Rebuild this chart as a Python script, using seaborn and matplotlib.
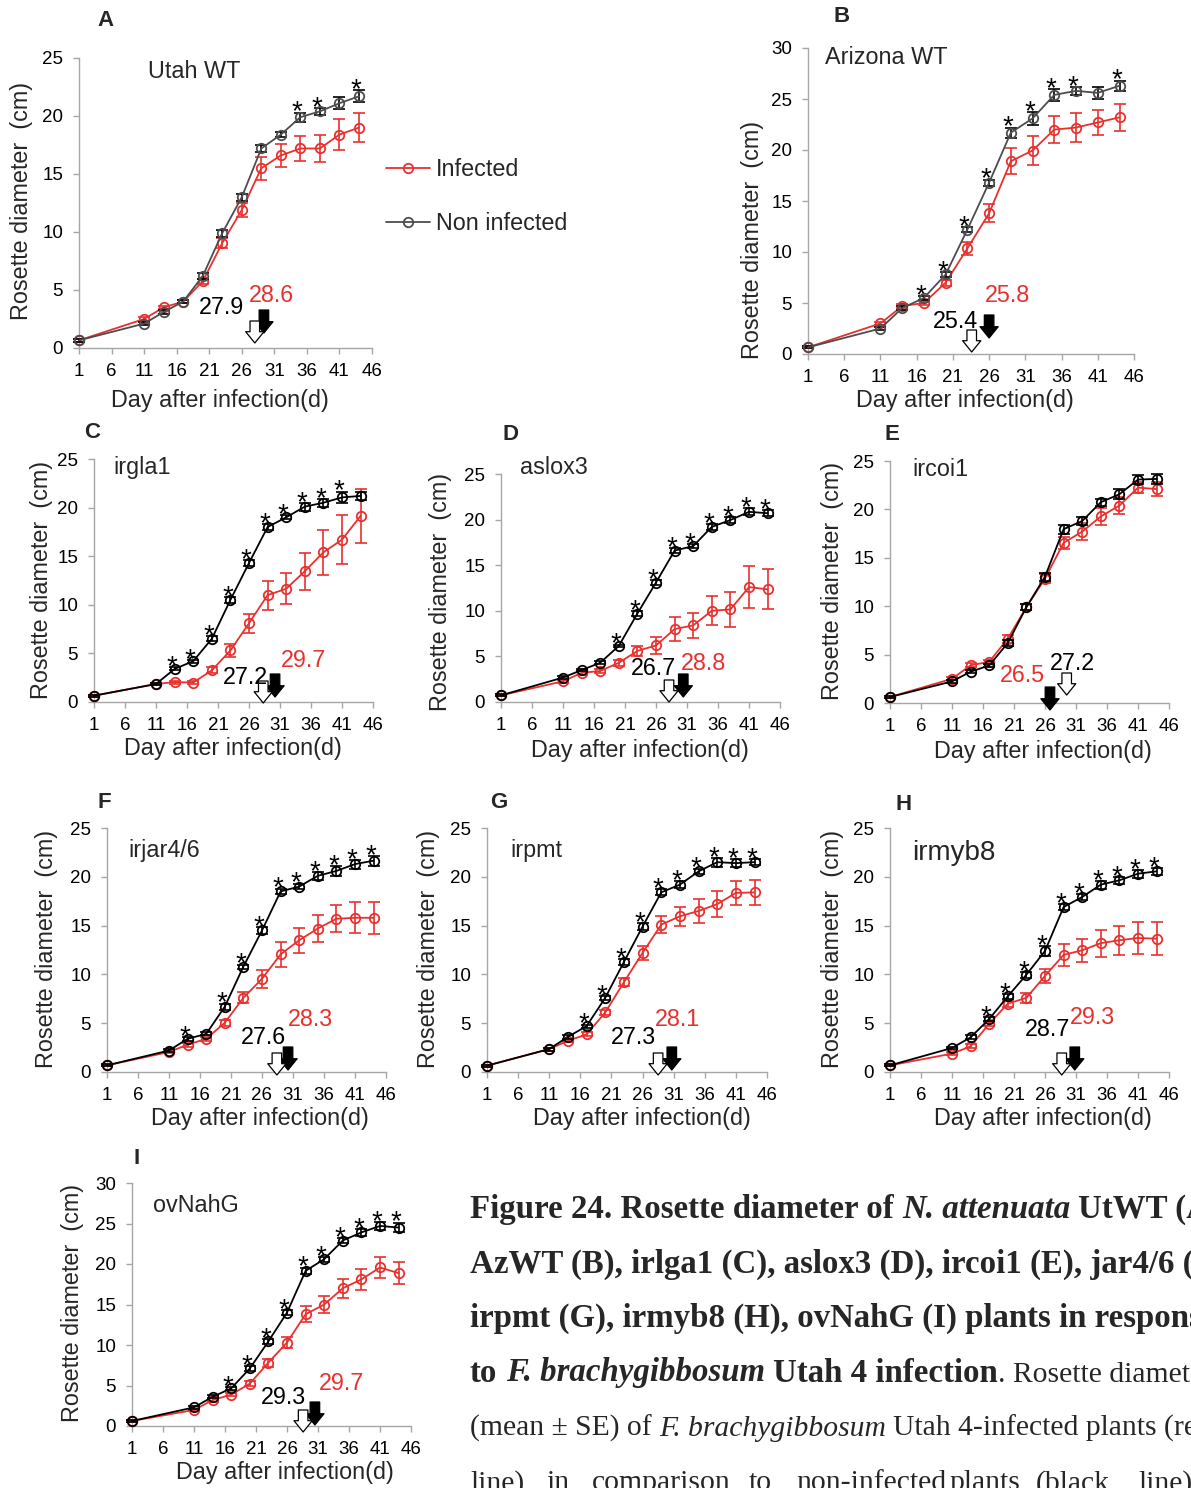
import numpy as np
import pandas as pd
import matplotlib
matplotlib.use("Agg")
import matplotlib.pyplot as plt
from matplotlib.lines import Line2D
from matplotlib import transforms
import seaborn as sns

sns.set_theme(style="white")
SANS = ["Liberation Sans", "DejaVu Sans"]
SERIF = ["Liberation Serif", "DejaVu Serif"]
plt.rcParams["font.family"] = SANS

W, H, DPI = 1191, 1488, 100

# ------------------------------------------------------------------ data
days = [1, 11, 14, 17, 20, 23, 26, 29, 32, 35, 38, 41, 44]

utah_non = [0.66, 2.1, 3.1, 4.0, 6.2, 9.9, 13.0, 17.2, 18.4, 19.9, 20.4, 21.1, 21.7]
utah_non_se = [0.1, 0.15, 0.2, 0.15, 0.25, 0.3, 0.3, 0.3, 0.25, 0.4, 0.3, 0.5, 0.5]
utah_inf = [0.66, 2.5, 3.5, 4.0, 5.75, 9.05, 11.9, 15.5, 16.6, 17.2, 17.2, 18.4, 19.0]
utah_inf_se = [0.1, 0.15, 0.15, 0.15, 0.2, 0.4, 0.6, 1.0, 1.0, 1.1, 1.2, 1.35, 1.25]
utah_sig = [35, 38, 44]

az_non = [0.65, 2.5, 4.5, 5.5, 7.8, 12.2, 16.8, 21.7, 23.1, 25.4, 25.8, 25.6, 26.3]
az_non_se = [0.1, 0.15, 0.2, 0.2, 0.25, 0.25, 0.3, 0.5, 0.6, 0.6, 0.4, 0.6, 0.5]
az_inf = [0.65, 3.0, 4.7, 5.0, 7.0, 10.35, 13.8, 18.9, 19.95, 22.0, 22.2, 22.7, 23.2]
az_inf_se = [0.1, 0.15, 0.2, 0.2, 0.3, 0.6, 0.9, 1.3, 1.4, 1.3, 1.4, 1.25, 1.3]
az_sig = [17, 20, 23, 26, 29, 32, 35, 38, 44]

gla_non = [0.65, 1.85, 3.4, 4.2, 6.5, 10.5, 14.3, 18.0, 19.0, 20.1, 20.5, 21.05, 21.2]
gla_non_se = [0.1, 0.1, 0.15, 0.15, 0.25, 0.3, 0.3, 0.3, 0.2, 0.4, 0.4, 0.6, 0.4]
gla_inf = [0.65, 1.85, 2.05, 2.0, 3.25, 5.3, 8.1, 11.0, 11.65, 13.45, 15.4, 16.7, 19.15]
gla_inf_se = [0.1, 0.1, 0.15, 0.15, 0.3, 0.65, 1.0, 1.5, 1.6, 1.9, 2.3, 2.5, 2.8]
gla_sig = [14, 17, 20, 23, 26, 29, 32, 35, 38, 41]

lox_non = [0.73, 2.68, 3.5, 4.3, 6.15, 9.7, 13.1, 16.6, 17.1, 19.2, 19.95, 20.85, 20.7]
lox_non_se = [0.1, 0.15, 0.15, 0.15, 0.15, 0.25, 0.25, 0.25, 0.25, 0.3, 0.35, 0.4, 0.35]
lox_inf = [0.73, 2.27, 3.2, 3.4, 4.3, 5.6, 6.2, 8.0, 8.4, 10.0, 10.15, 12.6, 12.35]
lox_inf_se = [0.1, 0.15, 0.2, 0.2, 0.3, 0.55, 0.9, 1.3, 1.35, 1.6, 1.9, 2.3, 2.2]
lox_sig = [20, 23, 26, 29, 32, 35, 38, 41, 44]

coi_non = [0.62, 2.23, 3.23, 3.88, 6.2, 9.9, 13.05, 17.96, 18.8, 20.74, 21.57, 23.08, 23.15]
coi_non_se = [0.1, 0.15, 0.15, 0.15, 0.3, 0.3, 0.4, 0.45, 0.4, 0.35, 0.5, 0.5, 0.5]
coi_inf = [0.62, 2.5, 3.9, 4.25, 6.65, 9.9, 12.85, 16.55, 17.7, 19.27, 20.4, 22.25, 22.1]
coi_inf_se = [0.1, 0.15, 0.2, 0.2, 0.4, 0.3, 0.5, 0.6, 0.9, 0.9, 0.9, 0.6, 0.7]
coi_sig = []

jar_non = [0.68, 2.2, 3.4, 3.9, 6.7, 10.8, 14.5, 18.5, 19.0, 20.1, 20.6, 21.3, 21.65]
jar_non_se = [0.1, 0.15, 0.2, 0.15, 0.3, 0.2, 0.35, 0.3, 0.3, 0.4, 0.5, 0.45, 0.5]
jar_inf = [0.68, 2.05, 2.8, 3.4, 5.05, 7.6, 9.55, 12.05, 13.5, 14.7, 15.7, 15.8, 15.8]
jar_inf_se = [0.1, 0.15, 0.2, 0.2, 0.3, 0.55, 0.9, 1.3, 1.3, 1.4, 1.4, 1.6, 1.65]
jar_sig = [14, 20, 23, 26, 29, 32, 35, 38, 41, 44]

pmt_non = [0.65, 2.35, 3.6, 4.7, 7.6, 11.27, 14.9, 18.4, 19.2, 20.55, 21.5, 21.4, 21.5]
pmt_non_se = [0.1, 0.15, 0.2, 0.15, 0.2, 0.3, 0.35, 0.3, 0.35, 0.3, 0.45, 0.4, 0.3]
pmt_inf = [0.65, 2.35, 3.2, 3.85, 6.1, 9.2, 12.2, 15.1, 15.95, 16.5, 17.2, 18.35, 18.4]
pmt_inf_se = [0.1, 0.15, 0.15, 0.2, 0.25, 0.4, 0.7, 0.9, 1.0, 1.2, 1.35, 1.25, 1.3]
pmt_sig = [17, 20, 23, 26, 29, 32, 35, 38, 41, 44]

myb_non = [0.68, 2.46, 3.55, 5.43, 7.75, 9.97, 12.4, 16.9, 17.93, 19.2, 19.64, 20.32, 20.56]
myb_non_se = [0.1, 0.15, 0.2, 0.2, 0.25, 0.3, 0.5, 0.3, 0.3, 0.4, 0.35, 0.4, 0.35]
myb_inf = [0.68, 1.88, 2.63, 4.95, 7.0, 7.6, 9.84, 12.0, 12.47, 13.2, 13.5, 13.73, 13.66]
myb_inf_se = [0.1, 0.15, 0.2, 0.2, 0.3, 0.5, 0.75, 1.1, 1.2, 1.4, 1.5, 1.6, 1.7]
myb_sig = [17, 20, 23, 26, 29, 32, 35, 38, 41, 44]

nahg_non = [0.62, 2.3, 3.6, 4.65, 7.1, 10.45, 14.0, 19.15, 20.6, 22.9, 23.9, 24.7, 24.5]
nahg_non_se = [0.1, 0.15, 0.2, 0.2, 0.3, 0.3, 0.35, 0.4, 0.3, 0.3, 0.4, 0.5, 0.6]
nahg_inf = [0.62, 1.98, 3.2, 3.87, 5.23, 7.83, 10.3, 13.8, 15.0, 17.0, 18.1, 19.57, 18.87]
nahg_inf_se = [0.1, 0.15, 0.2, 0.2, 0.3, 0.5, 0.7, 1.0, 1.0, 1.2, 1.3, 1.3, 1.4]
nahg_sig = [17, 20, 23, 26, 29, 32, 35, 38, 41, 44]

panel_letters = ["A", "B", "C", "D", "E", "F", "G", "H", "I"]
panel_titles = ["Utah WT", "Arizona WT", "irgla1", "aslox3", "ircoi1",
                "irjar4/6", "irpmt", "irmyb8", "ovNahG"]
onset_non = [27.9, 25.4, 27.2, 26.7, 27.2, 27.6, 27.3, 28.7, 29.3]
onset_inf = [28.6, 25.8, 29.7, 28.8, 26.5, 28.3, 28.1, 29.3, 29.7]
# drawn arrow positions (days)
arrow_open_x = [28.0, 23.6, 28.3, 28.1, 29.5, 28.4, 28.5, 28.7, 28.6]
arrow_fill_x = [29.4, 26.0, 30.2, 30.4, 26.8, 30.2, 30.7, 30.8, 30.5]

legend_labels = ["Infected", "Non infected"]
x_label = "Day after infection(d)"
y_label = "Rosette diameter  (cm)"

series = [
    (utah_non, utah_non_se, utah_inf, utah_inf_se, utah_sig),
    (az_non, az_non_se, az_inf, az_inf_se, az_sig),
    (gla_non, gla_non_se, gla_inf, gla_inf_se, gla_sig),
    (lox_non, lox_non_se, lox_inf, lox_inf_se, lox_sig),
    (coi_non, coi_non_se, coi_inf, coi_inf_se, coi_sig),
    (jar_non, jar_non_se, jar_inf, jar_inf_se, jar_sig),
    (pmt_non, pmt_non_se, pmt_inf, pmt_inf_se, pmt_sig),
    (myb_non, myb_non_se, myb_inf, myb_inf_se, myb_sig),
    (nahg_non, nahg_non_se, nahg_inf, nahg_inf_se, nahg_sig),
]

# ------------------------------------------------------------------ layout (pixels)
RED = "#E8312F"
GRAY = "#4D4D4D"
SPINE = "#A6A6A6"
FS = 16.8

rects = [(79, 372, 348, 58), (808, 1134, 354, 48), (94, 373, 702, 459),
         (501, 780, 702, 474), (890, 1169, 703, 461), (107, 386, 1072, 828),
         (487, 767, 1072, 828), (890, 1169, 1072, 828), (132, 411, 1426, 1183)]
ymaxs = [25, 30, 25, 25, 25, 25, 25, 25, 30]
non_colors = [GRAY, GRAY, "black", "black", "black", "black", "black", "black", "black"]
letter_xy = [(105, 21), (842, 16), (92, 433), (511, 434), (892, 434),
             (104, 803), (499, 803), (904, 804), (137, 1158)]
title_xy = [(148, 72), (825, 57), (113, 468), (520, 468), (912, 469),
            (128, 851), (510, 850), (912, 853), (153, 1205)]
title_fs = [FS, FS, FS, FS, FS, FS, FS, 20, FS]
ylab_xy = [(22, 201), (753, 240), (42, 580), (441, 592), (833, 581),
           (47, 949), (428, 949), (833, 949), (72, 1303)]
xlab_xy = [(220, 400), (965, 401), (233, 748), (640, 750), (1043, 751),
           (260, 1118), (642, 1118), (1043, 1118), (285, 1473)]
num_non_xy = [(221, 308), (955, 322), (245, 677), (653, 668), (1072, 663),
              (263, 1037), (633, 1037), (1047, 1030), (283, 1398)]
num_inf_xy = [(271, 295), (1007, 295), (303, 660), (703, 663), (1022, 675),
              (310, 1019), (678, 1020), (1092, 1017), (342, 1383)]
# arrow tip heights above the x axis in pixels
open_tip = [5, 2, -1, 0, 8, -3, -3, -3, -6]
fill_tip = [15, 16, 5, 5, -7, 2, 2, 2, 1]


def fx(x):
    return x / W


def fy(y):
    return 1 - y / H


fig = plt.figure(figsize=(W / DPI, H / DPI), dpi=DPI)


def draw_arrow(ax, x, tip_px, length_px, filled, z):
    tr = transforms.offset_copy(ax.transData, fig=fig, x=0, y=tip_px, units="dots")
    ax.annotate("", xy=(x, 0), xycoords=tr, xytext=(0, length_px),
                textcoords="offset pixels", annotation_clip=False,
                arrowprops=dict(arrowstyle="simple,head_length=0.65,head_width=1.05,tail_width=0.55",
                                fc="black" if filled else "white", ec="black", lw=0.9,
                                shrinkA=0, shrinkB=0, mutation_scale=12.5,
                                clip_on=False, zorder=z))


axes = []
for i, (non, non_se, inf, inf_se, sig) in enumerate(series):
    l, r, b, t = rects[i]
    ax = fig.add_axes([l / W, 1 - b / H, (r - l) / W, (b - t) / H])
    axes.append(ax)
    ymax = ymaxs[i]
    nc = non_colors[i]

    df = pd.DataFrame({"day": days, "inf": inf, "inf_se": inf_se,
                       "non": non, "non_se": non_se})

    # infected (red)
    ax.errorbar(df["day"], df["inf"], yerr=df["inf_se"], fmt="none", ecolor=RED,
                elinewidth=1.2, capsize=4.5, capthick=1.2, clip_on=False, zorder=2)
    sns.lineplot(data=df, x="day", y="inf", ax=ax, color=RED, marker="o",
                 markersize=6.8, markerfacecolor="none", markeredgecolor=RED,
                 markeredgewidth=1.3, linewidth=1.3, clip_on=False, zorder=3)
    # non infected
    ax.errorbar(df["day"], df["non"], yerr=df["non_se"], fmt="none", ecolor="black",
                elinewidth=1.2, capsize=4.5, capthick=1.2, clip_on=False, zorder=4)
    sns.lineplot(data=df, x="day", y="non", ax=ax, color=nc, marker="o",
                 markersize=6.8, markerfacecolor="none", markeredgecolor=nc,
                 markeredgewidth=1.3, linewidth=1.3, clip_on=False, zorder=5)

    # significance asterisks
    for d in sig:
        k = days.index(d)
        ax.annotate("*", xy=(d, non[k] + non_se[k]), xytext=(-3, -7),
                    textcoords="offset pixels", ha="center", va="baseline",
                    fontsize=20, color="black", annotation_clip=False)

    # arrows
    draw_arrow(ax, arrow_fill_x[i], fill_tip[i], 23, True, 6)
    draw_arrow(ax, arrow_open_x[i], open_tip[i], 22, False, 7)

    ax.set_xlim(1, 46)
    ax.set_ylim(0, ymax)
    ax.set_xticks(list(range(1, 47, 5)))
    ax.set_yticks(list(range(0, ymax + 1, 5)))
    for s in ["top", "right"]:
        ax.spines[s].set_visible(False)
    for s in ["left", "bottom"]:
        ax.spines[s].set_color(SPINE)
        ax.spines[s].set_linewidth(1.0)
    ax.tick_params(axis="both", which="both", direction="out", length=4.5, width=1.0,
                   color=SPINE, labelsize=13.5, labelcolor="black", bottom=True, left=True)
    ax.tick_params(axis="x", pad=6)
    ax.tick_params(axis="y", pad=7)
    ax.grid(False)

    ax.set_xlabel(x_label, fontsize=FS, va="center", ha="center")
    ax.xaxis.set_label_coords(fx(xlab_xy[i][0]), fy(xlab_xy[i][1]), transform=fig.transFigure)
    ax.set_ylabel(y_label, fontsize=FS, va="center", ha="center")
    ax.yaxis.set_label_coords(fx(ylab_xy[i][0]), fy(ylab_xy[i][1]), transform=fig.transFigure)

    fig.text(fx(letter_xy[i][0]), fy(letter_xy[i][1]), panel_letters[i], fontsize=16,
             weight="bold", ha="center", va="center")
    fig.text(fx(title_xy[i][0]), fy(title_xy[i][1]), panel_titles[i], fontsize=title_fs[i],
             ha="left", va="center")
    fig.text(fx(num_non_xy[i][0]), fy(num_non_xy[i][1]), f"{onset_non[i]:.1f}", fontsize=FS,
             color="black", ha="center", va="center")
    fig.text(fx(num_inf_xy[i][0]), fy(num_inf_xy[i][1]), f"{onset_inf[i]:.1f}", fontsize=FS,
             color=RED, ha="center", va="center")

# legend (panel A)
handles = [Line2D([], [], color=RED, marker="o", markersize=6.8, markerfacecolor="none",
                  markeredgecolor=RED, markeredgewidth=1.3, lw=1.3),
           Line2D([], [], color=GRAY, marker="o", markersize=6.8, markerfacecolor="none",
                  markeredgecolor=GRAY, markeredgewidth=1.3, lw=1.3)]
axes[0].legend(handles, legend_labels, loc="upper left", bbox_to_anchor=(fx(386), fy(158)),
               bbox_transform=fig.transFigure, frameon=False, fontsize=FS, handlelength=1.9,
               handletextpad=0.25, labelspacing=1.35, borderpad=0, borderaxespad=0, numpoints=1)

# ------------------------------------------------------------------ caption
CAP_B = 23.7   # bold heading part
CAP_R = 21.3   # regular body part


def space_px(size):
    return 0.25 * size * DPI / 72.0


caption = [
    [("Figure 24. Rosette diameter of", "bold", "normal", 0),
     ("N. attenuata", "bold", "italic", 1), ("UtWT (A),", "bold", "normal", 1)],
    [("AzWT (B), irlga1 (C), aslox3 (D), ircoi1 (E), jar4/6 (F),", "bold", "normal", 0)],
    [("irpmt (G), irmyb8 (H), ovNahG (I) plants in response", "bold", "normal", 0)],
    [("to", "bold", "normal", 0), ("F. brachygibbosum", "bold", "italic", 1),
     ("Utah 4 infection", "bold", "normal", 1), (". Rosette diameter", "normal", "normal", 0)],
    [("(mean ± SE) of", "normal", "normal", 0), ("F. brachygibbosum", "normal", "italic", 1),
     ("Utah 4-infected plants (red", "normal", "normal", 1)],
]
baselines = [1218, 1272.5, 1327, 1381.5, 1436, 1490.5]
renderer = fig.canvas.get_renderer()
for li, segs in enumerate(caption):
    x = 470.0
    for txt, wt, st, sp in segs:
        size = CAP_B if wt == "bold" else CAP_R
        x += sp * space_px(size)
        t = fig.text(fx(x), fy(baselines[li]), txt, fontsize=size, family=SERIF,
                     weight=wt, style=st, ha="left", va="baseline")
        bb = t.get_window_extent(renderer)
        x = bb.x1
last_words = ["line)", "in", "comparison", "to", "non-infected", "plants", "(black", "line)"]
last_x = [470, 546, 592, 749, 796, 949, 1036, 1138]
for w_, x_ in zip(last_words, last_x):
    fig.text(fx(x_), fy(baselines[5]), w_, fontsize=CAP_R, family=SERIF, ha="left", va="baseline")

fig.savefig("out.png", dpi=DPI)
